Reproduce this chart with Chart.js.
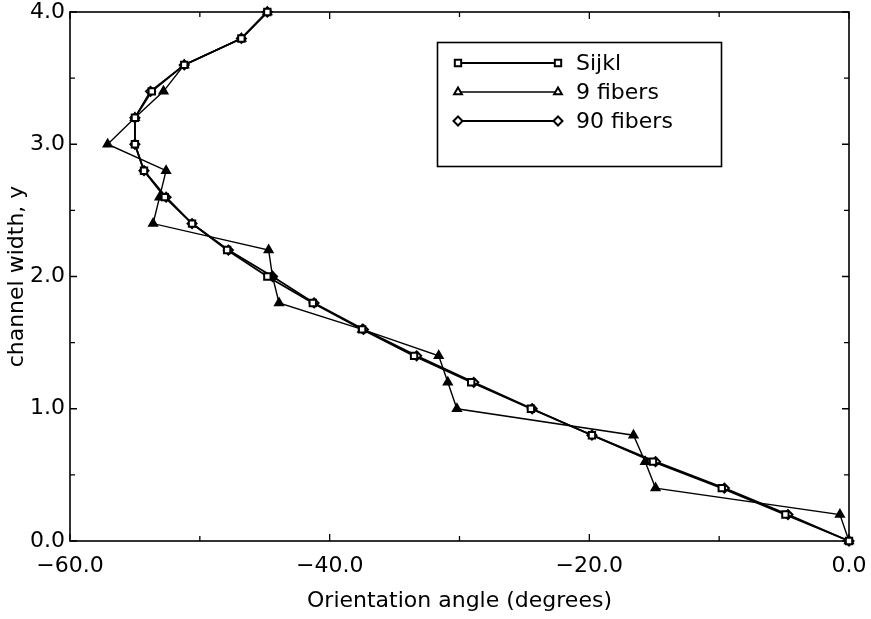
<!DOCTYPE html>
<html>
<head>
<meta charset="utf-8">
<script src="https://cdn.jsdelivr.net/npm/chart.js@4/dist/chart.umd.min.js"></script>
<style>
  html, body { margin: 0; padding: 0; background: #fff; }
  canvas { display: block; }
</style>
</head>
<body>
<canvas id="c" width="871" height="619" role="img" aria-label="Orientation angle vs channel width">Orientation angle across channel width</canvas>
<script>
// channel width positions (y) and orientation angles (x, degrees)
const widthY   = [0.0, 0.2, 0.4, 0.6, 0.8, 1.0, 1.2, 1.4, 1.6, 1.8, 2.0, 2.2, 2.4, 2.6, 2.8, 3.0, 3.2, 3.4, 3.6, 3.8, 4.0];
const sijkl    = [0.0, -4.9, -9.8, -15.1, -19.8, -24.5, -29.1, -33.5, -37.5, -41.3, -44.8, -47.9, -50.6, -52.7, -54.3, -55.0, -55.0, -53.7, -51.2, -46.8, -44.8];
const fibers9  = [0.0, -0.7, -14.9, -15.7, -16.6, -30.2, -30.9, -31.6, -37.5, -43.9, -44.4, -44.7, -53.6, -53.1, -52.6, -57.1, -55.0, -52.8, -51.2, -46.8, -44.8];
const fibers90 = [0.0, -4.7, -9.6, -14.9, -19.8, -24.4, -28.9, -33.3, -37.4, -41.2, -44.4, -47.8, -50.6, -52.6, -54.3, -55.0, -55.0, -53.8, -51.2, -46.8, -44.8];
const seriesNames = ['Sijkl', '9 fibers', '90 fibers'];
const xTicks = [-60, -40, -20, 0];
const xMinor = [-50, -30, -10];
const yTicks = [0, 1, 2, 3, 4];
const yMinor = [0.5, 1.5, 2.5, 3.5];

const FONT = 'DejaVu Sans';
Chart.defaults.font.family = FONT;
Chart.defaults.color = '#000';

const pts = (xs) => xs.map((x, i) => ({ x, y: widthY[i] }));
const fmt = (v) => (v < 0 ? '\u2212' + Math.abs(v).toFixed(1) : v.toFixed(1));

// box + inward ticks on all four sides
const frame = {
  id: 'frame',
  beforeDatasetsDraw(chart) {
    const { ctx, chartArea: a, scales: { x, y } } = chart;
    ctx.save();
    ctx.strokeStyle = '#000';
    ctx.lineWidth = 1.6;
    ctx.strokeRect(a.left, a.top, a.right - a.left, a.bottom - a.top);
    ctx.lineWidth = 1.3;
    const tick = (px, len, vert) => {
      ctx.beginPath();
      if (vert) {
        ctx.moveTo(px, a.bottom); ctx.lineTo(px, a.bottom - len);
        ctx.moveTo(px, a.top); ctx.lineTo(px, a.top + len);
      } else {
        ctx.moveTo(a.left, px); ctx.lineTo(a.left + len, px);
        ctx.moveTo(a.right, px); ctx.lineTo(a.right - len, px);
      }
      ctx.stroke();
    };
    xTicks.forEach((v) => tick(x.getPixelForValue(v), 7, true));
    xMinor.forEach((v) => tick(x.getPixelForValue(v), 5, true));
    yTicks.forEach((v) => tick(y.getPixelForValue(v), 7, false));
    yMinor.forEach((v) => tick(y.getPixelForValue(v), 5, false));
    ctx.restore();
  },
};

// boxed legend inside the plot
const boxLegend = {
  id: 'boxLegend',
  afterDraw(chart) {
    const { ctx } = chart;
    ctx.save();
    ctx.strokeStyle = '#000';
    ctx.lineWidth = 1.6;
    ctx.strokeRect(437.5, 42.5, 284, 124);
    const rows = [63, 92, 121];
    chart.data.datasets.forEach((ds, i) => {
      const yy = rows[i];
      ctx.strokeStyle = '#000';
      ctx.lineWidth = ds.borderWidth;
      ctx.beginPath(); ctx.moveTo(458, yy); ctx.lineTo(558, yy); ctx.stroke();
      [458, 558].forEach((xx) => {
        ctx.fillStyle = i === 1 ? '#fff' : ds.pointBackgroundColor;
        ctx.strokeStyle = '#000';
        ctx.lineWidth = ds.pointBorderWidth;
        if (Chart.helpers && Chart.helpers.drawPoint) {
          Chart.helpers.drawPoint(ctx, { pointStyle: ds.pointStyle, radius: ds.pointRadius, rotation: 0, borderWidth: ds.pointBorderWidth }, xx, yy);
        }
      });
      ctx.fillStyle = '#000';
      ctx.font = '22px "' + FONT + '"';
      ctx.textBaseline = 'middle';
      ctx.fillText(ds.label, 576, yy + 1);
    });
    ctx.restore();
  },
};

const mk = (label, xs, style, fill, width) => ({
  label, data: pts(xs), showLine: true, tension: 0, clip: false,
  borderColor: '#000', borderWidth: width,
  pointStyle: style, pointRadius: 4.5, pointBorderWidth: 2,
  pointBackgroundColor: fill, pointBorderColor: '#000',
});

new Chart(document.getElementById('c'), {
  type: 'scatter',
  data: {
    datasets: [
      mk(seriesNames[0], sijkl, 'rect', '#fff', 1.8),
      mk(seriesNames[1], fibers9, 'triangle', '#000', 1.4),
      mk(seriesNames[2], fibers90, 'rectRot', '#fff', 1.8),
    ],
  },
  options: {
    responsive: false, animation: false, events: [],
    layout: { padding: { top: 12, right: 22, left: 0, bottom: 0 } },
    plugins: { legend: { display: false }, tooltip: { enabled: false } },
    scales: {
      x: {
        type: 'linear', min: -60, max: 0,
        grid: { display: false, drawTicks: false }, border: { display: false },
        afterBuildTicks: (s) => { s.ticks = xTicks.map((v) => ({ value: v })); },
        ticks: { callback: fmt, font: { size: 22 }, padding: 12, maxRotation: 0, autoSkip: false },
        title: { display: true, text: 'Orientation angle (degrees)', font: { size: 22 }, padding: { top: 0, bottom: 5 } },
        afterFit: (s) => { s.height = 78; s.paddingLeft = 0; s.paddingRight = 0; },
      },
      y: {
        type: 'linear', min: 0, max: 4,
        grid: { display: false, drawTicks: false }, border: { display: false },
        afterBuildTicks: (s) => { s.ticks = yTicks.map((v) => ({ value: v })); },
        ticks: { callback: (v) => v.toFixed(1), font: { size: 22 }, padding: 5, autoSkip: false },
        title: { display: true, text: 'channel width, y', font: { size: 22 }, padding: { top: 4, bottom: 0 } },
        afterFit: (s) => { s.width = 70; s.paddingTop = 0; s.paddingBottom = 0; },
      },
    },
  },
  plugins: [frame, boxLegend],
});
</script>
</body>
</html>
